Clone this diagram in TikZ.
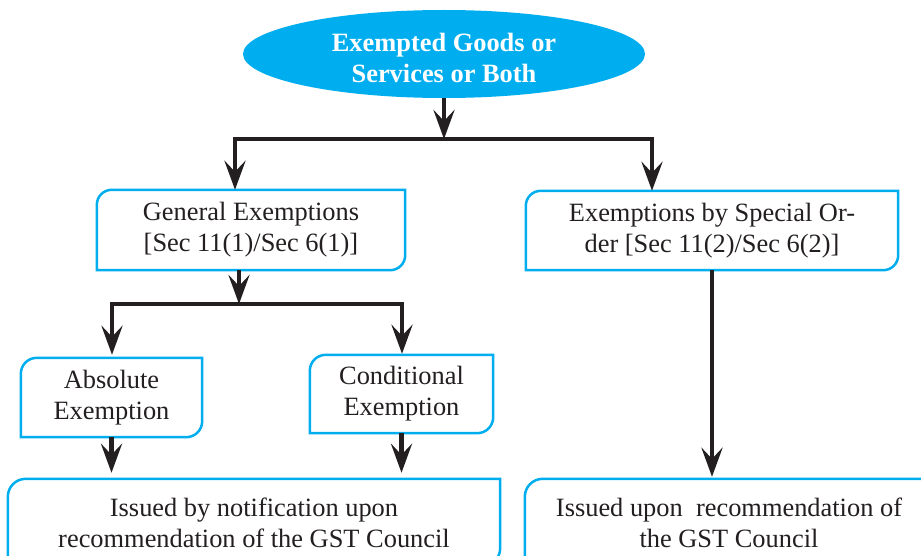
\documentclass[tikz,border=0pt]{standalone}
\usepackage{fontspec}
\setmainfont{Liberation Serif}
\usetikzlibrary{arrows.meta,shapes.geometric}
\definecolor{gstcyan}{HTML}{00AEEF}
\definecolor{ink}{HTML}{231F20}
\newcommand\gstframe[2]{%
  \draw[frameline] (#1.north east) -- ([xshift=#2]#1.north west)
    arc[start angle=90,end angle=180,radius=#2] -- (#1.south west)
    -- ([xshift=-#2]#1.south east)
    arc[start angle=-90,end angle=0,radius=#2] -- cycle;}
\begin{document}
\begin{tikzpicture}[x=1pt,y=1pt,
  txt/.style={font=\fontsize{26.4}{31}\selectfont, text=ink, align=center, inner sep=0pt},
  boxnode/.style n args={2}{txt, minimum width=#1, minimum height=#2},
  frameline/.style={draw=gstcyan, line width=2.5pt},
  conn/.style={draw=ink, line width=4.5pt, line join=miter},
  tip/.tip={Stealth[length=29pt,width=21pt,inset=11pt]}]
\useasboundingbox (0,0) rectangle (921,-556);
\clip (0,0) rectangle (921,-556);
\fill[white] (0,0) rectangle (921,-556);

% top ellipse
\node[ellipse, fill=gstcyan, minimum width=402pt, minimum height=88pt, inner sep=0pt,
      label={[font=\fontsize{26.4}{31}\selectfont\bfseries, text=white, align=center,
              inner sep=0pt, yshift=-4pt]center:Exempted Goods or\\Services or Both}]
  (ell) at (444,-54) {};

% boxes
\node[boxnode={308pt}{80pt}] (ge) at (251,-230) {General Exemptions\\{}[Sec 11(1)/Sec 6(1)]};
\node[boxnode={372pt}{79pt}] (so) at (712,-230.5) {Exemptions by Special Or-\\der [Sec 11(2)/Sec 6(2)]};
\node[boxnode={181pt}{79pt}] (abs) at (111.5,-397.5) {Absolute\\Exemption};
\node[boxnode={183pt}{78pt}] (cond) at (401.5,-394) {Conditional\\Exemption};
\node[boxnode={492pt}{87pt}] (bl) at (254,-522.5) {Issued by notification upon\\recommendation of the GST Council};
\node[boxnode={408pt}{87pt}, xshift=-2pt] (br) at (731,-522.5) {Issued upon\ \ recommendation of\\the GST Council};

\gstframe{ge}{15pt}
\gstframe{so}{15pt}
\gstframe{abs}{16pt}
\gstframe{cond}{16pt}
\gstframe{bl}{18pt}
\draw[frameline] (br.north east) -- ([xshift=18pt]br.north west)
    arc[start angle=90,end angle=180,radius=18pt] -- (br.south west) -- (br.south east) -- cycle;

% connectors
\coordinate (j1) at (444,-139);
\coordinate (b1L) at (235,-139);
\coordinate (b1R) at (652,-139);
\draw[conn,-{tip}] (ell.south) -- (j1);
\draw[conn,{tip}-{tip}] (b1L |- ge.north) -- (b1L) -- (b1R) -- (b1R |- so.north);

\coordinate (j2) at (239,-304);
\coordinate (b2L) at (112,-304);
\coordinate (b2R) at (402,-304);
\draw[conn,-{tip}] (ge.south -| j2) -- (j2);
\draw[conn,{tip}-{tip}] ([yshift=3pt]b2L |- abs.north) -- (b2L) -- (b2R) -- ([yshift=1pt]b2R |- cond.north);

\draw[conn,-{tip}] (abs.south) -- ([yshift=6pt]abs.south |- bl.north);
\draw[conn,-{tip}] (cond.south) -- ([yshift=6pt]cond.south |- bl.north);
\draw[conn,-{tip}] (so.south) -- ([yshift=2pt]so.south |- br.north);
\end{tikzpicture}
\end{document}
